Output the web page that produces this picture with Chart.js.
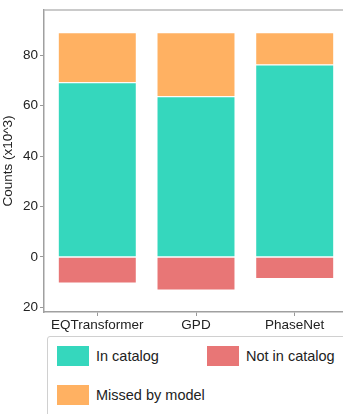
<!DOCTYPE html>
<html>
<head>
<meta charset="utf-8">
<script src="https://cdn.jsdelivr.net/npm/chart.js@4"></script>
<style>
    html, body { margin: 0; padding: 0; background: #fff; overflow: hidden; }
    body { width: 343px; height: 414px; position: relative; font-family: "Liberation Sans", Arial, sans-serif; }
    #wrap { position: absolute; left: 0; top: 0; width: 348px; height: 332px; }
    #legend { position: absolute; left: 47px; top: 336px; width: 310px; height: 90px;
        border: 1px solid #d0d0d0; border-radius: 3px; box-sizing: border-box; }
    .item { position: absolute; display: flex; align-items: center; font-size: 14.5px; color: #222; }
    .swatch { width: 32px; height: 20px; margin-right: 7px; }
</style>
</head>
<body>
<div id="wrap"><canvas id="chart"></canvas></div>
<div id="legend"></div>
<script>
    'use strict';

    const categories = ['EQTransformer', 'GPD', 'PhaseNet'];
    const inCatalog = [69.2, 63.7, 76.2];
    const missedByModel = [19.8, 25.3, 12.8];
    const notInCatalog = [-10.5, -13.3, -8.7];
    const yTicks = [-20, 0, 20, 40, 60, 80];

    const colors = {
        inCatalog: '#35d7bd',
        notInCatalog: '#e87676',
        missed: '#ffb162'
    };

    function points(values) {
        return values.map(function (v, i) { return { x: i, y: v }; });
    }

    const datasets = [
        { label: 'In catalog', data: points(inCatalog), backgroundColor: colors.inCatalog },
        { label: 'Not in catalog', data: points(notInCatalog), backgroundColor: colors.notInCatalog },
        { label: 'Missed by model', data: points(missedByModel), backgroundColor: colors.missed }
    ].map(function (ds) {
        ds.borderColor = 'rgba(255,255,255,0.25)';
        ds.borderWidth = 1;
        ds.barPercentage = 0.8;
        ds.categoryPercentage = 1;
        return ds;
    });

    const topBorder = {
        id: 'topBorder',
        afterDraw: function (chart) {
            const a = chart.chartArea;
            const ctx = chart.ctx;
            ctx.save();
            ctx.strokeStyle = '#b8b8b8';
            ctx.lineWidth = 1.5;
            ctx.beginPath();
            ctx.moveTo(a.left, a.top);
            ctx.lineTo(a.right, a.top);
            ctx.stroke();
            ctx.restore();
        }
    };

    const font = { family: '"Liberation Sans", Arial, sans-serif', size: 13.5 };

    new Chart(document.getElementById('chart'), {
        type: 'bar',
        data: { datasets: datasets },
        plugins: [topBorder],
        options: {
            responsive: true,
            maintainAspectRatio: false,
            animation: false,
            layout: { padding: { top: 7, left: 0, right: 0, bottom: 0 } },
            plugins: {
                legend: { display: false },
                tooltip: { enabled: false }
            },
            scales: {
                x: {
                    type: 'linear',
                    stacked: true,
                    offset: false,
                    bounds: 'ticks',
                    min: -0.54,
                    max: 2.54,
                    afterBuildTicks: function (s) {
                        s.ticks = categories.map(function (c, i) { return { value: i }; });
                    },
                    afterFit: function (s) { s.height = 20; },
                    ticks: {
                        color: '#222',
                        font: font,
                        padding: 1,
                        maxRotation: 0,
                        autoSkip: false,
                        callback: function (v) { return categories[v]; }
                    },
                    grid: { drawOnChartArea: false, tickLength: 4, tickColor: '#999', offset: false },
                    border: { color: '#a0a0a0', width: 1.5 }
                },
                y: {
                    stacked: true,
                    min: -21.8,
                    max: 97.8,
                    afterBuildTicks: function (s) {
                        s.ticks = yTicks.map(function (v) { return { value: v }; });
                    },
                    afterFit: function (s) { s.width = 44; },
                    ticks: {
                        color: '#222',
                        font: font,
                        padding: 2,
                        callback: function (v) { return Math.abs(v); }
                    },
                    grid: { drawOnChartArea: false, tickLength: 4, tickColor: '#999' },
                    border: { color: '#a0a0a0', width: 1.5 },
                    title: {
                        display: true,
                        text: 'Counts (x10^3)',
                        color: '#222',
                        font: font,
                        padding: { top: 0, bottom: 4 }
                    }
                }
            }
        }
    });

    // legend drawn from the datasets
    const legend = document.getElementById('legend');
    const slots = [
        { left: 9, top: 9 },
        { left: 159, top: 9 },
        { left: 9, top: 48 }
    ];
    datasets.forEach(function (ds, i) {
        const item = document.createElement('div');
        item.className = 'item';
        item.style.left = slots[i].left + 'px';
        item.style.top = slots[i].top + 'px';
        const sw = document.createElement('span');
        sw.className = 'swatch';
        sw.style.background = ds.backgroundColor;
        item.appendChild(sw);
        item.appendChild(document.createTextNode(ds.label));
        legend.appendChild(item);
    });
</script>
</body>
</html>
